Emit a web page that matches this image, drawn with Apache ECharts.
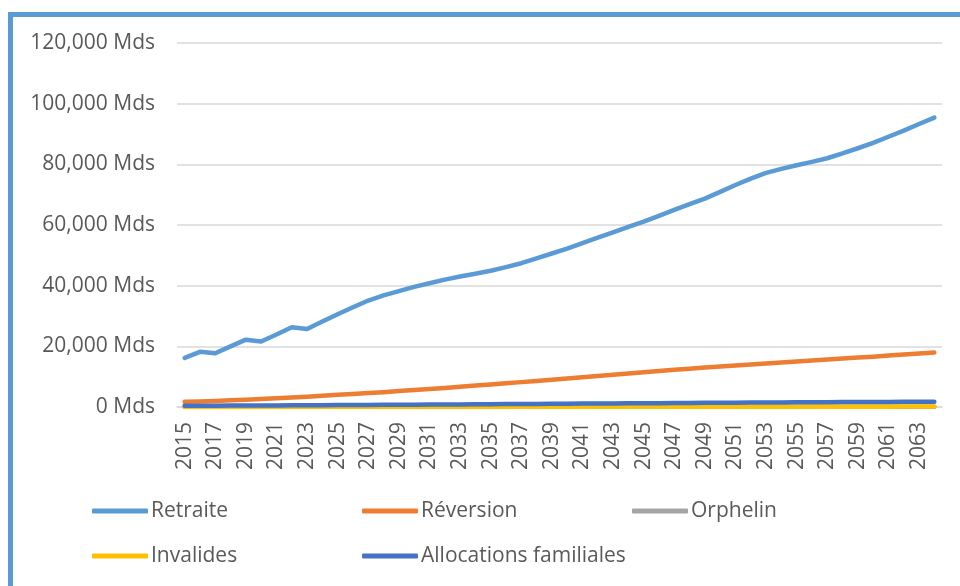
<!DOCTYPE html>
<html>
<head>
<meta charset="utf-8">
<script src="https://cdn.jsdelivr.net/npm/echarts@6/dist/echarts.min.js"></script>
<style>
  html, body { margin: 0; padding: 0; background: #fff; }
  #chart { width: 960px; height: 586px; }
</style>
</head>
<body>
<div id="chart"></div>
<script>
// Years of the projection
const years = [];
for (let y = 2015; y <= 2064; y++) years.push(String(y));

// Amounts per benefit type (Mds)
const retraite = [
  16200, 18200, 17700, 20000, 22200, 21600, 23900, 26300, 25700, 28200,
  30600, 32900, 35100, 36800, 38200, 39600, 40800, 42000, 43000, 43900,
  44900, 46100, 47400, 49000, 50600, 52200, 54000, 55800, 57600, 59400,
  61100, 63000, 65000, 66900, 68700, 70900, 73200, 75300, 77200, 78500,
  79700, 80800, 82000, 83600, 85300, 87100, 89100, 91100, 93300, 95400
];
const reversion = [
  1700, 1850, 2000, 2200, 2400, 2600, 2850, 3100, 3400, 3700,
  4000, 4300, 4600, 4900, 5250, 5600, 5950, 6300, 6650, 7050,
  7450, 7800, 8200, 8600, 9000, 9400, 9800, 10250, 10650, 11050,
  11450, 11850, 12250, 12600, 13000, 13350, 13700, 14000, 14350, 14700,
  15000, 15300, 15650, 15950, 16300, 16600, 16950, 17300, 17650, 18000
];
const orphelin = [
  20, 20, 22, 22, 24, 25, 26, 27, 28, 29,
  30, 31, 32, 33, 34, 35, 36, 37, 38, 39,
  40, 41, 42, 43, 44, 45, 46, 47, 48, 49,
  50, 51, 52, 53, 54, 55, 56, 57, 58, 59,
  60, 61, 62, 63, 64, 65, 66, 67, 68, 70
];
const invalides = [
  30, 32, 34, 36, 38, 40, 42, 44, 46, 48,
  50, 52, 54, 56, 58, 60, 62, 64, 66, 68,
  70, 72, 74, 76, 78, 80, 82, 84, 86, 88,
  90, 92, 94, 96, 98, 100, 102, 104, 106, 108,
  110, 112, 114, 116, 118, 120, 122, 124, 126, 130
];
const allocations = [
  400, 420, 440, 460, 480, 500, 520, 540, 560, 590,
  620, 650, 680, 710, 740, 770, 800, 830, 860, 900,
  940, 970, 1000, 1030, 1060, 1090, 1120, 1150, 1180, 1210,
  1240, 1270, 1300, 1330, 1360, 1390, 1420, 1450, 1480, 1500,
  1530, 1560, 1590, 1610, 1640, 1660, 1680, 1700, 1720, 1750
];

const seriesNames = ['Retraite', 'Réversion', 'Orphelin', 'Invalides', 'Allocations familiales'];
const seriesData = [retraite, reversion, orphelin, invalides, allocations];
const colors = ['#5b9bd5', '#ed7d31', '#a5a5a5', '#ffc000', '#4472c4'];

const FONT = "'Open Sans', 'Noto Sans', sans-serif";
const TEXT = '#595959';

// One legend per entry so each sits in its own column
const legendSpots = [
  { left: 92, top: 499 },
  { left: 362, top: 499 },
  { left: 632, top: 499 },
  { left: 92, top: 544 },
  { left: 362, top: 544 }
];
const legends = seriesNames.map((name, i) => ({
  data: [{ name: name, icon: 'roundRect' }],
  left: legendSpots[i].left,
  top: legendSpots[i].top,
  padding: 0,
  itemWidth: 56,
  itemHeight: 5,
  selectedMode: false,
  textStyle: { fontFamily: FONT, fontSize: 21, color: TEXT, padding: [0, 0, 0, -2], lineHeight: 24 }
}));

const chart = echarts.init(document.getElementById('chart'), null, { renderer: 'canvas' });
chart.setOption({
  animation: false,
  backgroundColor: '#ffffff',
  color: colors,
  graphic: [{
    type: 'rect',
    shape: { x: 10.5, y: 14.5, width: 1200, height: 1200 },
    style: { fill: 'none', stroke: '#5b9bd5', lineWidth: 5 },
    silent: true
  }],
  legend: legends,
  grid: { left: 177, right: 18, top: 43, bottom: 179, containLabel: false },
  xAxis: {
    type: 'category',
    data: years,
    boundaryGap: true,
    axisLine: { show: true, lineStyle: { color: '#d9d9d9', width: 1.5 } },
    axisTick: { show: false },
    axisLabel: {
      rotate: 90,
      interval: 1,
      margin: 15,
      fontFamily: FONT,
      fontSize: 21,
      color: TEXT
    }
  },
  yAxis: {
    type: 'value',
    min: 0,
    max: 120000,
    interval: 20000,
    axisLine: { show: false },
    axisTick: { show: false },
    splitLine: { lineStyle: { color: '#d9d9d9', width: 1.5 } },
    axisLabel: {
      margin: 22,
      fontFamily: FONT,
      fontSize: 21,
      color: TEXT,
      formatter: v => v.toLocaleString('en-US') + ' Mds'
    }
  },
  series: seriesNames.map((name, i) => ({
    name: name,
    type: 'line',
    data: seriesData[i],
    symbol: 'none',
    smooth: false,
    lineStyle: { width: 4.5, color: colors[i], cap: 'round', join: 'round' },
    itemStyle: { color: colors[i] },
    z: 2 + i
  }))
});
</script>
</body>
</html>
